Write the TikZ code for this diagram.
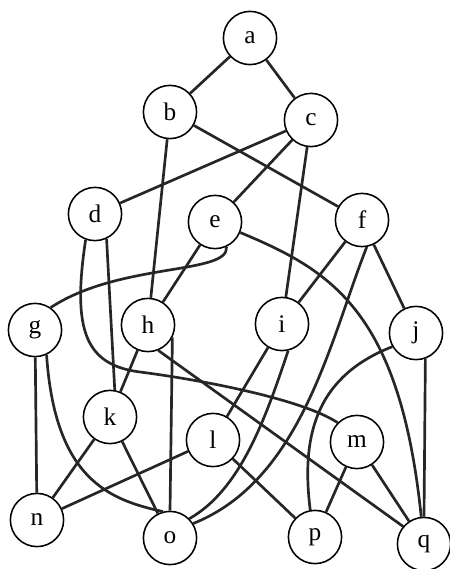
\documentclass[tikz,border=0pt]{standalone}
\usepackage{fontspec}
\setmainfont{Liberation Serif}
\tikzstyle{vertex} = [circle, draw=black, line width=1.1pt, fill=white,
    minimum size=1.33cm, inner sep=0pt, font=\fontsize{18}{20}\selectfont]
\tikzstyle{edge}   = [line width=1.9pt, draw=black!85]

\begin{document}
\begin{tikzpicture}[x=0.025cm, y=-0.025cm]
    \useasboundingbox (0,0) rectangle (449,569);
    \node (a) [vertex] at (250,38)  {a};
    \node (b) [vertex] at (170,112) {b};
    \node (c) [vertex] at (311,120) {c};
    \node (d) [vertex] at (95,214)  {d};
    \node (e) [vertex] at (215,222) {e};
    \node (f) [vertex] at (362,220) {f};
    \node (g) [vertex] at (35,330)  {g};
    \node (h) [vertex] at (148,325) {h};
    \node (i) [vertex] at (282,324) {i};
    \node (j) [vertex] at (416,333) {j};
    \node (k) [vertex] at (110,417) {k};
    \node (l) [vertex] at (213,440) {l};
    \node (m) [vertex] at (357,442) {m};
    \node (n) [vertex] at (37,520)  {n};
    \node (o) [vertex] at (170,538) {o};
    \node (p) [vertex] at (315,537) {p};
    \node (q) [vertex] at (424,544) {q};

    \draw [edge] (a) -- (b);
    \draw [edge] (a) -- (c);
    \draw [edge] (b) -- (f);
    \draw [edge] (b) -- (h);
    \draw [edge] (c) -- (d);
    \draw [edge] (c) -- (e);
    \draw [edge] (c) -- (i);
    \draw [edge] (d.-65) -- (k.80);
    \draw [edge] (d.-110) .. controls (72,330) and (85,365) .. (140,372)
                          .. controls (195,379) and (300,398) .. (m.135);
    \draw [edge] (e.-65) .. controls (229,275) and (120,262) .. (g.55);
    \draw [edge] (e) -- (h);
    \draw [edge] (e) .. controls (330,270) and (400,310) .. (q);
    \draw [edge] (f) -- (i);
    \draw [edge] (f) -- (j);
    \draw [edge] (f.-80) .. controls (330,340) and (302,480) .. (o.32);
    \draw [edge] (g) -- (n);
    \draw [edge] (g.-65) .. controls (55,480) and (110,500) .. (o.105);
    \draw [edge] (h) -- (k);
    \draw [edge] (h.-27) -- (o.north);
    \draw [edge] (h.-68) -- (q.140);
    \draw [edge] (i) -- (l);
    \draw [edge] (i.-77) .. controls (265,420) and (240,490) .. (o.45);
    \draw [edge] (j.-150) .. controls (320,375) and (300,430) .. (p.100);
    \draw [edge] (j.-70) -- (q.north);
    \draw [edge] (k) -- (n);
    \draw [edge] (k) -- (o);
    \draw [edge] (l) -- (n);
    \draw [edge] (l) -- (p);
    \draw [edge] (m) -- (p);
    \draw [edge] (m) -- (q);
\end{tikzpicture}
\end{document}
